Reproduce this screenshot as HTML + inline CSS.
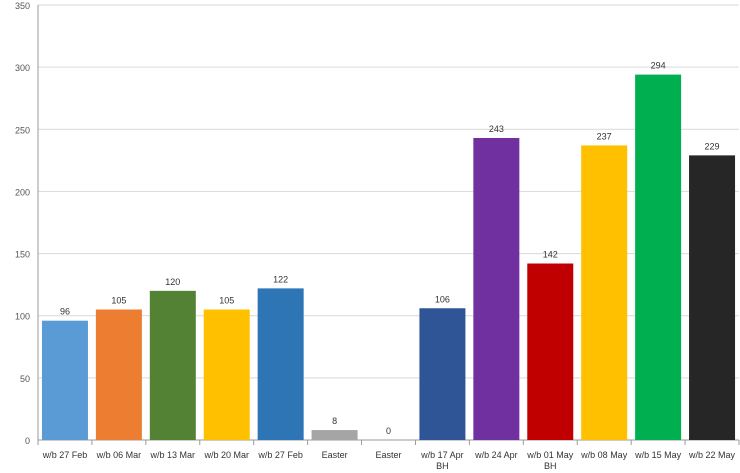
<!DOCTYPE html>
<html><head><meta charset="utf-8"><style>
body{margin:0;background:#fff;}
svg{display:block;font-family:"Liberation Sans",sans-serif;}
</style></head><body>
<svg id="c" width="740" height="473"></svg>
<script>
const categories=["w/b 27 Feb","w/b 06 Mar","w/b 13 Mar","w/b 20 Mar","w/b 27 Feb","Easter","Easter","w/b 17 Apr|BH","w/b 24 Apr","w/b 01 May|BH","w/b 08 May","w/b 15 May","w/b 22 May"];
const values=[96,105,120,105,122,8,0,106,243,142,237,294,229];
const colors=["#5b9bd5","#ed7d31","#548235","#ffc000","#2e75b6","#a5a5a5","#a5a5a5","#2f5597","#7030a0","#c00000","#ffc000","#00b050","#262626"];
const yTicks=[0,50,100,150,200,250,300,350];
const NS="http://www.w3.org/2000/svg";
const svg=document.getElementById('c');
const x0=38,x1=739,yTop=5,yBot=440,yMax=350;
const y=v=>yBot-(v/yMax)*(yBot-yTop);
const bw=(x1-x0)/categories.length;
const xc=i=>x0+bw*(i+0.5);
function mk(t,a){const e=document.createElementNS(NS,t);for(const k in a)e.setAttribute(k,a[k]);svg.appendChild(e);return e;}
yTicks.forEach(t=>{
  const g=mk('line',{x1:x0,x2:x1,y1:y(t),y2:y(t),stroke:t===0?'#999':'#d9d9d9','stroke-width':1});
  
  
  const l=mk('text',{x:x0-8,y:y(t)+4,'text-anchor':'end','font-size':9,fill:'#555'});
  l.textContent=t;
  
  
});
const ax=mk('line',{x1:x0,x2:x0,y1:yTop,y2:yBot,stroke:'#999'});


for(let i=0;i<=categories.length;i++){
  const tk=mk('line',{x1:x0+bw*i,x2:x0+bw*i,y1:yBot,y2:yBot+5,stroke:'#999'});
  
  
}
categories.forEach((c,i)=>{
  const v=values[i];
  const r=mk('rect',{x:xc(i)-23,y:y(v),width:46,height:yBot-y(v),fill:colors[i]});
  
  
  const vl=mk('text',{x:xc(i),y:y(v)-6,'text-anchor':'middle','font-size':9,fill:'#333'});
  vl.textContent=v;
  
  
  c.split('|').forEach((p,j)=>{
    const t=mk('text',{x:xc(i),y:458+j*11,'text-anchor':'middle','font-size':9,fill:'#333'});
    t.textContent=p;
    
    
  });
});
</script>
</body></html>
